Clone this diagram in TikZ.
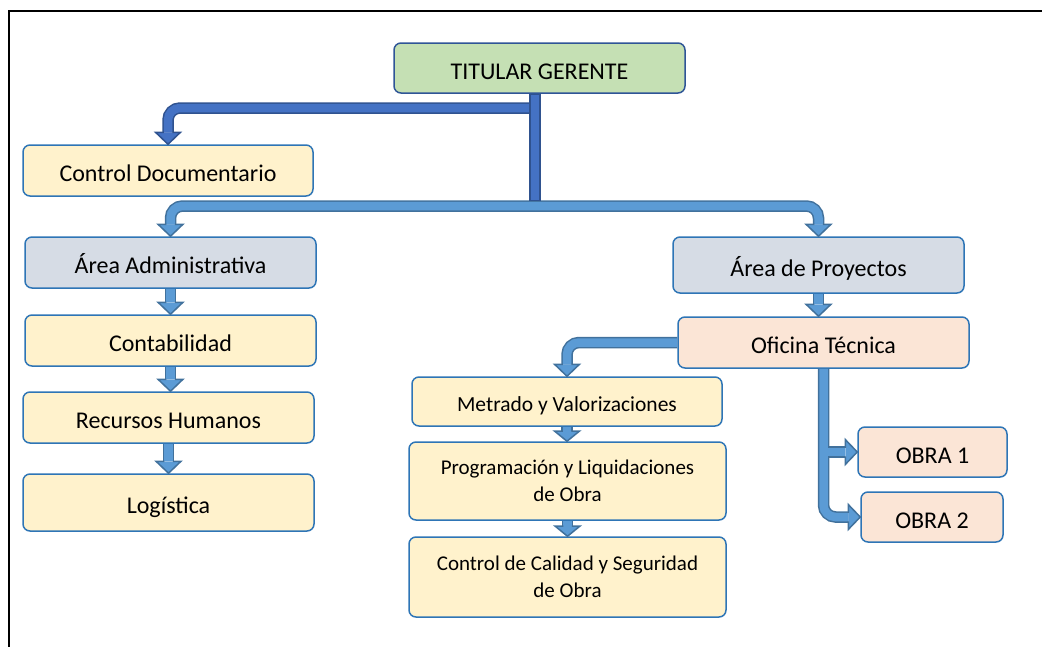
\documentclass[tikz,border=0pt]{standalone}
\usepackage{fontspec}
\setmainfont{Carlito}
\usetikzlibrary{calc}
\definecolor{bx}{HTML}{2E75B6}
\definecolor{bxd}{HTML}{2F5597}
\definecolor{fy}{HTML}{FFF2CC}
\definecolor{fg}{HTML}{C5E0B4}
\definecolor{fb}{HTML}{D6DCE5}
\definecolor{fp}{HTML}{FBE5D6}
\definecolor{lfill}{HTML}{5B9BD5}
\definecolor{lbord}{HTML}{41719C}
\definecolor{dfill}{HTML}{4472C4}
\definecolor{dbord}{HTML}{2F528F}
\tikzset{
  basebox/.style={draw=bx, line width=1.5pt, rounded corners=7pt, inner sep=0pt},
  box/.style={basebox, font=\fontsize{24}{28}\selectfont, text height=22.5pt, text depth=0pt},
  sbox/.style={basebox, font=\fontsize{21.5}{27}\selectfont, text height=19.8pt, text depth=0pt},
  mbox/.style={basebox, font=\fontsize{21}{27}\selectfont, align=center},
  sout/.style={line width=11.5pt, draw=#1bord, rounded corners=12pt},
  sin/.style={line width=8.5pt, draw=#1fill, rounded corners=12pt},
  hd/.pic={
    \fill[#1fill] (-12.5pt,12pt) -- (0pt,0pt) -- (12.5pt,12pt) -- cycle;
    \draw[#1bord, line width=1.5pt, line join=miter] (-4.25pt,12pt) -- (-12.5pt,12pt) -- (0pt,0pt) -- (12.5pt,12pt) -- (4.25pt,12pt);
  },
  frame/.style={line width=2.2pt, draw=black}
}
\begin{document}
\begin{tikzpicture}[x=1pt,y=-1pt]
\useasboundingbox (0,0) rectangle (1042,646);
\draw[frame] (1042,11) -- (9,11) -- (9,648);

% boxes
\node[box, fill=fg, draw=bxd, minimum width=291, minimum height=50] (tg) at (539.5,68) {TITULAR GERENTE};
\node[box, fill=fy, minimum width=290, minimum height=51] (cd) at (168,170.5) {Control Documentario};
\node[box, fill=fb, minimum width=291, minimum height=51] (aa) at (170.5,262.5) {Área Administrativa};
\node[box, fill=fy, minimum width=291, minimum height=51] (co) at (170.5,340.5) {Contabilidad};
\node[box, fill=fy, minimum width=291, minimum height=51] (rh) at (168.5,417.5) {Recursos Humanos};
\node[box, fill=fy, minimum width=291, minimum height=57] (lo) at (168.5,502.5) {Logística};
\node[box, fill=fb, minimum width=291, minimum height=56] (ap) at (818.5,265) {Área de Proyectos};
\node[box, fill=fp, minimum width=291, minimum height=51] (ot) at (823.5,342.5) {Oficina Técnica};
\node[box, fill=fp, minimum width=149, minimum height=50] (o1) at (932.5,452) {OBRA 1};
\node[box, fill=fp, minimum width=142, minimum height=50] (o2) at (932,517) {OBRA 2};
\node[sbox, fill=fy, minimum width=310, minimum height=49] (mv) at (567,401.5) {Metrado y Valorizaciones};
\node[mbox, fill=fy, minimum width=317, minimum height=78] (pl) at (567.5,481) {Programación y Liquidaciones\\de Obra};
\node[mbox, fill=fy, minimum width=317, minimum height=80] (cc) at (567.5,577) {Control de Calidad y Seguridad\\de Obra};

\coordinate (j) at (535,206);
\coordinate (jd) at (535,108);

% light arrows from junction
\draw[sout=l] (j) -- (j -| aa.north) -- ($(aa.north)+(0,-12)$);
\draw[sout=l] (j) -- (j -| ap.north) -- ($(ap.north)+(0,-12)$);
\draw[sin=l] (j) -- (j -| aa.north) -- ($(aa.north)+(0,-12)$);
\draw[sin=l] (j) -- (j -| ap.north) -- ($(ap.north)+(0,-12)$);
\pic at (aa.north) {hd=l};
\pic at (ap.north) {hd=l};

% dark arrow
\draw[sout=d] (jd) -- (jd -| cd.north) -- ($(cd.north)+(0,-12)$);
\draw[sin=d] (jd) -- (jd -| cd.north) -- ($(cd.north)+(0,-12)$);
\pic at (cd.north) {hd=d};
\draw[sout=d] (tg.south -| j) -- ($(j)+(0,-5)$);
\draw[sin=d] ($(tg.south -| j)+(0,1.5)$) -- ($(j)+(0,-6.5)$);

% left column
\draw[sout=l] (aa.south) -- ($(aa.south |- co.north)+(0,-12)$);
\draw[sin=l] (aa.south) -- ($(aa.south |- co.north)+(0,-12)$);
\pic at (aa.south |- co.north) {hd=l};
\draw[sout=l] (co.south) -- ($(co.south |- rh.north)+(0,-12)$);
\draw[sin=l] (co.south) -- ($(co.south |- rh.north)+(0,-12)$);
\pic at (co.south |- rh.north) {hd=l};
\draw[sout=l] (rh.south) -- ($(rh.south |- lo.north)+(0,-12)$);
\draw[sin=l] (rh.south) -- ($(rh.south |- lo.north)+(0,-12)$);
\pic at (rh.south |- lo.north) {hd=l};

% right side
\draw[sout=l] (ap.south) -- ($(ap.south |- ot.north)+(0,-12)$);
\draw[sin=l] (ap.south) -- ($(ap.south |- ot.north)+(0,-12)$);
\pic at (ap.south |- ot.north) {hd=l};

\draw[sout=l] (ot.west) -- (ot.west -| mv.north) -- ($(mv.north)+(0,-12)$);
\draw[sin=l] (ot.west) -- (ot.west -| mv.north) -- ($(mv.north)+(0,-12)$);
\pic at (mv.north) {hd=l};

\draw[sout=l] (mv.south) -- ($(mv.south |- pl.north)+(0,-10)$);
\draw[sin=l] (mv.south) -- ($(mv.south |- pl.north)+(0,-10)$);
\pic[yscale=0.85] at (mv.south |- pl.north) {hd=l};
\draw[sout=l] (pl.south) -- ($(pl.south |- cc.north)+(0,-10)$);
\draw[sin=l] (pl.south) -- ($(pl.south |- cc.north)+(0,-10)$);
\pic[yscale=0.85] at (pl.south |- cc.north) {hd=l};

\draw[sout=l] (ot.south) -- (ot.south |- o2.west) -- ($(o2.west)+(-12,0)$);
\draw[sout=l] (ot.south |- o1.west) -- ($(o1.west)+(-12,0)$);
\draw[sin=l] (ot.south) -- (ot.south |- o2.west) -- ($(o2.west)+(-12,0)$);
\draw[sin=l] (ot.south |- o1.west) -- ($(o1.west)+(-12,0)$);
\pic[rotate=90] at (o1.west) {hd=l};
\pic[rotate=90] at (o2.west) {hd=l};
\end{tikzpicture}
\end{document}
